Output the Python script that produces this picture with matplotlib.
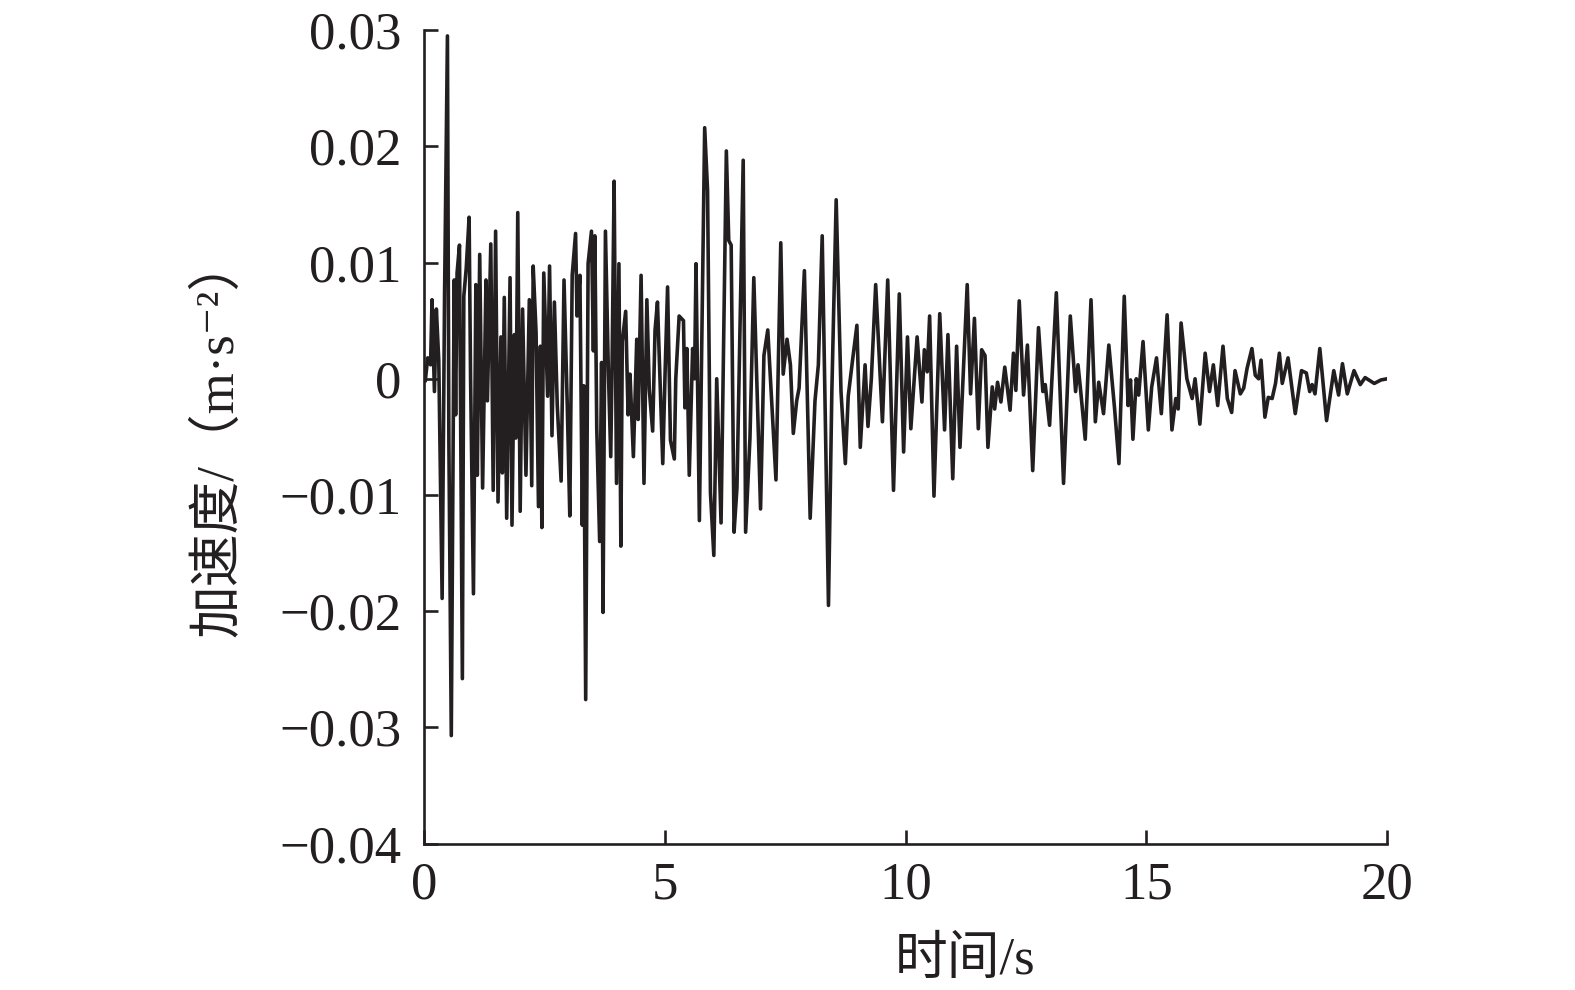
import matplotlib
matplotlib.use("Agg")
import matplotlib.pyplot as plt

# digitised acceleration record: time (s) and acceleration (m/s^2)
time_s = [
    0.00, 0.03, 0.08, 0.14, 0.17, 0.22, 0.26, 0.31, 0.38, 0.43, 0.49, 0.52, 0.57, 0.63, 0.66,
    0.69, 0.74, 0.80, 0.83, 0.88, 0.94, 0.97, 1.03, 1.08, 1.11, 1.16, 1.22, 1.29, 1.32, 1.39,
    1.44, 1.49, 1.54, 1.60, 1.63, 1.67, 1.72, 1.79, 1.83, 1.88, 1.91, 1.95, 2.00, 2.05, 2.12,
    2.19, 2.24, 2.27, 2.33, 2.38, 2.42, 2.45, 2.49, 2.57, 2.61, 2.66, 2.71, 2.77, 2.85, 2.91,
    2.98, 3.03, 3.08, 3.15, 3.18, 3.24, 3.29, 3.32, 3.36, 3.41, 3.48, 3.52, 3.55, 3.59, 3.65,
    3.69, 3.72, 3.77, 3.83, 3.88, 3.91, 3.95, 4.00, 4.05, 4.09, 4.12, 4.19, 4.24, 4.28, 4.35,
    4.42, 4.45, 4.51, 4.57, 4.63, 4.68, 4.75, 4.80, 4.85, 4.96, 5.01, 5.06, 5.12, 5.20, 5.23,
    5.30, 5.39, 5.42, 5.46, 5.51, 5.58, 5.62, 5.65, 5.72, 5.83, 5.89, 5.95, 6.02, 6.08, 6.17,
    6.28, 6.33, 6.38, 6.44, 6.50, 6.63, 6.68, 6.77, 6.85, 6.92, 6.99, 7.06, 7.14, 7.19, 7.31,
    7.41, 7.46, 7.54, 7.61, 7.67, 7.74, 7.79, 7.90, 8.02, 8.12, 8.19, 8.27, 8.40, 8.47, 8.56,
    8.66, 8.75, 8.81, 8.90, 8.99, 9.06, 9.16, 9.22, 9.29, 9.38, 9.52, 9.63, 9.75, 9.87, 9.96,
    10.04, 10.11, 10.24, 10.34, 10.39, 10.45, 10.50, 10.59, 10.71, 10.81, 10.88, 10.98, 11.06,
    11.13, 11.28, 11.35, 11.43, 11.51, 11.58, 11.65, 11.71, 11.80, 11.85, 11.91, 11.98, 12.06,
    12.17, 12.24, 12.29, 12.36, 12.45, 12.53, 12.64, 12.76, 12.85, 12.90, 12.99, 13.13, 13.28,
    13.42, 13.53, 13.58, 13.63, 13.73, 13.85, 13.94, 14.01, 14.11, 14.22, 14.34, 14.43, 14.54,
    14.62, 14.67, 14.72, 14.79, 14.84, 14.93, 15.04, 15.11, 15.21, 15.31, 15.43, 15.53, 15.61,
    15.66, 15.72, 15.84, 15.95, 16.01, 16.11, 16.22, 16.31, 16.39, 16.48, 16.59, 16.68, 16.77,
    16.84, 16.95, 17.02, 17.09, 17.19, 17.26, 17.33, 17.38, 17.46, 17.53, 17.61, 17.68, 17.76,
    17.82, 17.94, 18.09, 18.22, 18.32, 18.39, 18.44, 18.50, 18.60, 18.74, 18.89, 18.99, 19.07,
    19.17, 19.31, 19.44, 19.54, 19.73, 19.87, 20.00,
]
accel = [
    0.0000, -0.0002, 0.0018, 0.0012, 0.0068, -0.0011, 0.0060, 0.0016, -0.0189, 0.0071, 0.0295,
    -0.0055, -0.0307, 0.0085, -0.0031, 0.0091, 0.0115, -0.0258, 0.0071, 0.0095, 0.0139, 0.0002,
    -0.0185, 0.0081, -0.0083, 0.0107, -0.0094, 0.0085, -0.0019, 0.0116, -0.0096, 0.0127, -0.0106,
    0.0036, -0.0081, 0.0070, -0.0120, 0.0087, -0.0126, 0.0038, -0.0051, 0.0143, -0.0114, 0.0060,
    -0.0083, 0.0068, -0.0092, 0.0097, 0.0040, -0.0110, 0.0028, -0.0128, 0.0091, -0.0015, 0.0097,
    -0.0049, 0.0066, -0.0023, -0.0088, 0.0085, -0.0027, -0.0118, 0.0089, 0.0125, 0.0054, 0.0089,
    -0.0126, -0.0006, -0.0276, 0.0099, 0.0127, 0.0024, 0.0123, -0.0043, -0.0140, 0.0014, -0.0201,
    0.0127, 0.0008, -0.0067, 0.0020, 0.0170, -0.0090, 0.0099, -0.0144, 0.0032, 0.0058, -0.0031,
    0.0004, -0.0067, 0.0034, -0.0035, 0.0089, -0.0090, 0.0068, -0.0009, -0.0045, 0.0042, 0.0066,
    -0.0073, 0.0008, 0.0079, -0.0053, -0.0069, 0.0000, 0.0054, 0.0050, -0.0025, 0.0026, -0.0083,
    0.0026, 0.0000, 0.0099, -0.0122, 0.0216, 0.0162, -0.0098, -0.0152, 0.0000, -0.0124, 0.0196,
    0.0119, 0.0115, -0.0132, -0.0094, 0.0188, -0.0132, -0.0051, 0.0087, -0.0011, -0.0112, 0.0020,
    0.0042, 0.0004, -0.0087, 0.0117, 0.0004, 0.0034, 0.0012, -0.0047, -0.0019, -0.0008, 0.0093,
    -0.0120, -0.0019, 0.0012, 0.0123, -0.0195, -0.0011, 0.0154, -0.0011, -0.0073, -0.0015, 0.0016,
    0.0046, -0.0059, 0.0012, -0.0041, 0.0000, 0.0081, -0.0037, 0.0085, -0.0096, 0.0073, -0.0063,
    0.0036, -0.0043, 0.0036, -0.0020, 0.0025, 0.0006, 0.0054, -0.0101, 0.0056, -0.0044, 0.0038,
    -0.0086, 0.0028, -0.0059, 0.0081, -0.0013, 0.0052, -0.0043, 0.0025, 0.0020, -0.0059, -0.0007,
    -0.0026, -0.0003, -0.0020, 0.0010, -0.0027, 0.0022, -0.0010, 0.0067, -0.0014, 0.0029, -0.0079,
    0.0044, -0.0011, -0.0005, -0.0040, 0.0074, -0.0090, 0.0054, -0.0011, 0.0012, -0.0008, -0.0052,
    0.0068, -0.0037, -0.0003, -0.0030, 0.0029, -0.0026, -0.0073, 0.0071, -0.0023, -0.0001, -0.0052,
    0.0000, -0.0014, 0.0032, -0.0044, -0.0007, 0.0018, -0.0030, 0.0055, -0.0044, -0.0017, -0.0026,
    0.0048, 0.0000, -0.0017, 0.0000, -0.0039, 0.0022, -0.0011, 0.0012, -0.0023, 0.0028, -0.0017,
    -0.0029, 0.0007, -0.0013, -0.0008, 0.0009, 0.0026, 0.0003, 0.0000, 0.0016, -0.0033, -0.0016,
    -0.0017, -0.0004, 0.0022, -0.0004, 0.0018, -0.0030, 0.0007, 0.0005, -0.0011, -0.0005, -0.0013,
    0.0026, -0.0036, 0.0007, -0.0014, 0.0013, -0.0013, 0.0007, -0.0005, 0.0001, -0.0004, -0.0001,
    0.0000,
]

x_ticks = [0, 5, 10, 15, 20]
y_ticks = [-0.04, -0.03, -0.02, -0.01, 0, 0.01, 0.02, 0.03]
y_tick_labels = ["\u22120.04", "\u22120.03", "\u22120.02", "\u22120.01", "0", "0.01", "0.02", "0.03"]

INK = "#231f20"
FONTS = ["Liberation Serif", "Noto Sans CJK SC", "DejaVu Serif"]
plt.rcParams["font.family"] = FONTS

fig = plt.figure(figsize=(15.75, 9.9), dpi=100)
ax = fig.add_axes([0.2691, 0.1478, 0.6117, 0.8218])

ax.plot(time_s, accel, color=INK, lw=2.6, solid_joinstyle="round")

ax.set_xlim(0, 20)
ax.set_ylim(-0.04, 0.03)
ax.set_xticks(x_ticks)
ax.set_yticks(y_ticks)
ax.set_yticklabels(y_tick_labels)

for side in ("top", "right"):
    ax.spines[side].set_visible(False)
for side in ("left", "bottom"):
    ax.spines[side].set_linewidth(1.9)
    ax.spines[side].set_color(INK)
ax.tick_params(direction="in", length=10, width=1.9, color=INK,
               labelsize=38, labelcolor=INK)
ax.tick_params(axis="y", pad=16)
ax.tick_params(axis="x", pad=13)

ax.set_xlabel("时间/s", fontsize=38, color=INK)
ax.xaxis.set_label_coords(0.562, -0.114)
ax.set_ylabel("加速度/（m·s⁻²）", fontsize=38, color=INK)
ax.yaxis.set_label_coords(-0.187, 0.50)

fig.savefig("out.png", dpi=100)
